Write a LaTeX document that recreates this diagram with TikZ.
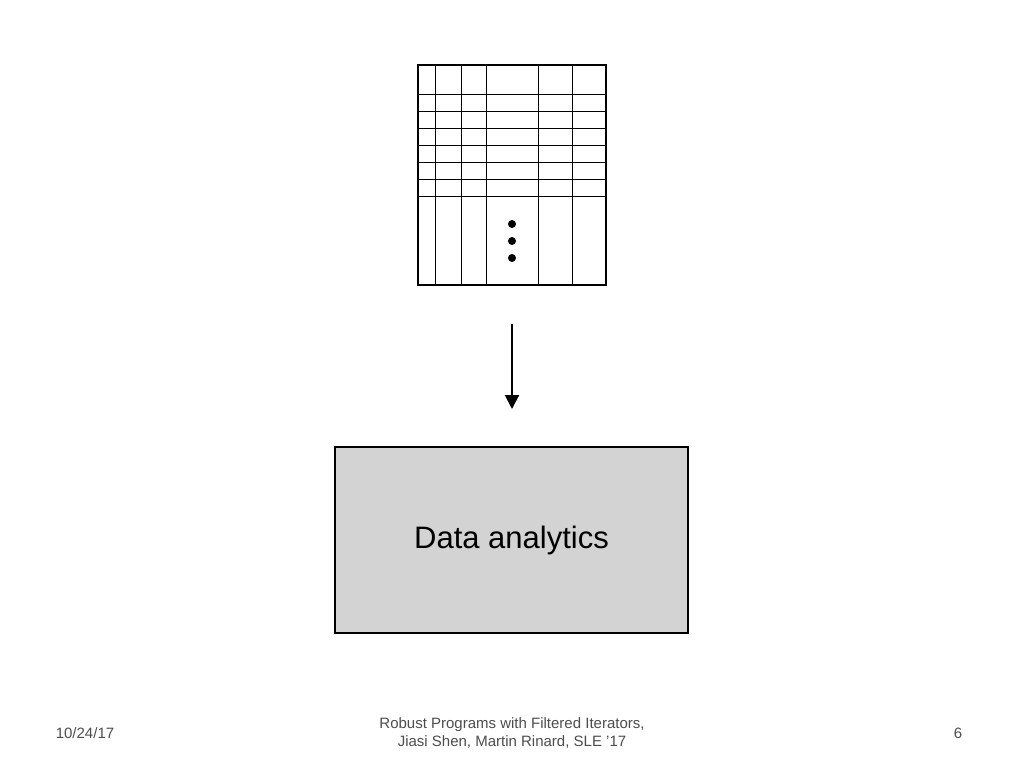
\documentclass[tikz,border=0pt]{standalone}
\usepackage{fontspec}
\setmainfont{Liberation Sans}
\usetikzlibrary{arrows.meta}
\begin{document}
\begin{tikzpicture}[x=1pt,y=-1pt,
  grid/.style={line width=1pt},
  foot/.style={text=black!70, font=\fontsize{15}{18}\selectfont, align=center}]
\useasboundingbox (0,0) rectangle (1024,768);
% table
\foreach \x in {435,461,486,538,572} \draw[grid] (\x,65) -- (\x,285);
\foreach \y in {94,111,128,145,162,179,196} \draw[grid] (418,\y) -- (606,\y);
\node[draw, line width=2.2pt, minimum width=188pt, minimum height=220pt, inner sep=0pt] (tab) at (512,175) {};
\foreach \y in {224,241,258} \fill (512,\y) circle (4);
\coordinate (a1) at (512,324);
\node[draw, line width=2pt, fill={rgb,255:red,211;green,211;blue,211}, minimum width=353pt, minimum height=186pt, inner sep=0pt,
  font=\fontsize{31}{36}\selectfont] (box) at (511.5,540) {Data analytics};
\draw[line width=2pt, -{Triangle[length=14pt,width=14pt]}] (a1) -- (512,409) coordinate (a2);
\node[foot] (f1) at (85,733) {10/24/17};
\node[foot] (f2) at (512,733) {Robust Programs with Filtered Iterators,\\Jiasi Shen, Martin Rinard, SLE '17};
\node[foot] (f3) at (958,733) {6};
\end{tikzpicture}
\end{document}
